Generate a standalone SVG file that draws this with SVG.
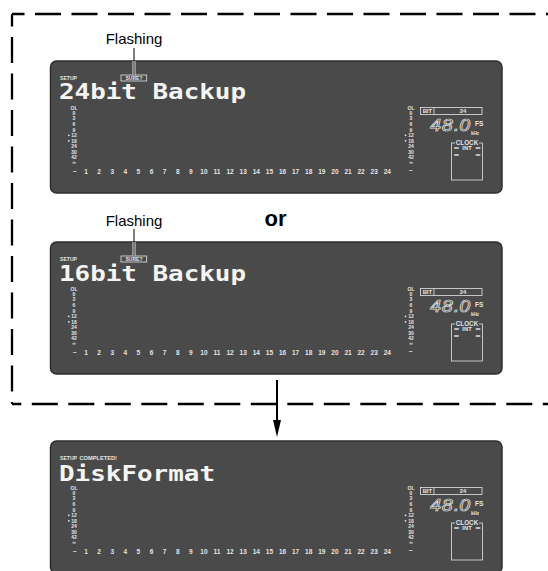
<svg xmlns="http://www.w3.org/2000/svg" width="548" height="571" viewBox="0 0 548 571">
<style>
.frame{fill:none;stroke:#000;stroke-width:2.3;stroke-dasharray:26 10.5}
.panel{fill:#4a4a4a;stroke:#2e2e2e;stroke-width:1.5}
.lcd{font-family:"DejaVu Sans Mono",monospace;font-weight:bold;font-size:22px;fill:#f5f5f5}
.t{font-family:"Liberation Sans",Arial,sans-serif;font-weight:bold;fill:#e4e4e4}
.m{font-size:5px;text-anchor:middle}
.n{font-size:6.5px;text-anchor:middle}
.c{text-anchor:middle}
.ol{fill:none;stroke:#e4e4e4;stroke-width:0.8}
.mk{fill:#e4e4e4}
.callout{font-family:"Liberation Sans",Arial,sans-serif;font-size:15px;fill:#000;text-anchor:middle}
.seg{font-family:"DejaVu Sans",sans-serif;font-style:italic;font-size:16px;fill:none;stroke:#e4e4e4;stroke-width:0.7}
</style>
<defs>
<g id="base">
<rect class="panel" x="50.5" y="61" width="451.5" height="132" rx="6"/>
<g class="t m">
<text x="74" y="110">OL</text><text x="74" y="114.5">0</text><text x="74" y="120">3</text><text x="74" y="126">6</text><text x="74" y="131.5">9</text><text x="74" y="137">12</text><text x="74" y="142.5">18</text><text x="74" y="148">24</text><text x="74" y="153.5">30</text><text x="74" y="159">42</text><text x="74" y="164">∞</text>
<text x="411" y="110">OL</text><text x="411" y="114.5">0</text><text x="411" y="120">3</text><text x="411" y="126">6</text><text x="411" y="131.5">9</text><text x="411" y="137">12</text><text x="411" y="142.5">18</text><text x="411" y="148">24</text><text x="411" y="153.5">30</text><text x="411" y="159">42</text><text x="411" y="164">∞</text>
</g>
<circle class="mk" cx="68.8" cy="135.3" r="0.9"/><circle class="mk" cx="68.8" cy="140.8" r="0.9"/>
<circle class="mk" cx="405.5" cy="135.3" r="0.9"/><circle class="mk" cx="405.5" cy="140.8" r="0.9"/>
<g class="t n">
<text x="75" y="174">−</text><text x="411" y="173">−</text>
<text x="86" y="174">1</text><text x="99.1" y="174">2</text><text x="112.2" y="174">3</text><text x="125.3" y="174">4</text><text x="138.4" y="174">5</text><text x="151.5" y="174">6</text><text x="164.6" y="174">7</text><text x="177.7" y="174">8</text><text x="190.8" y="174">9</text><text x="203.9" y="174">10</text><text x="217" y="174">11</text><text x="230.1" y="174">12</text><text x="243.2" y="174">13</text><text x="256.3" y="174">14</text><text x="269.4" y="174">15</text><text x="282.5" y="174">16</text><text x="295.6" y="174">17</text><text x="308.7" y="174">18</text><text x="321.8" y="174">19</text><text x="334.9" y="174">20</text><text x="348" y="174">21</text><text x="361.1" y="174">22</text><text x="374.2" y="174">23</text><text x="387.3" y="174">24</text>
</g>
<rect class="ol" x="420.5" y="107.5" width="61.5" height="7"/>
<line class="ol" x1="434" y1="107.5" x2="434" y2="114.5"/>
<text class="t c" x="427.3" y="113.3" font-size="5.8">BIT</text>
<text class="t c" x="463" y="113.3" font-size="5.8">24</text>
<text class="seg" x="430" y="131" textLength="41" lengthAdjust="spacingAndGlyphs">48.0</text>
<text class="t" x="475" y="126" font-size="6.5">FS</text>
<text class="t" x="471" y="135" font-size="4.6">kHz</text>
<rect class="ol" x="451.5" y="143" width="31" height="37"/>
<rect x="455" y="140" width="24" height="6" fill="#4a4a4a"/>
<text class="t c" x="467" y="145.3" font-size="6.3">CLOCK</text>
<text class="t c" x="467" y="150.3" font-size="5.8">INT</text>
<rect class="mk" x="454" y="147.2" width="5" height="1.6" rx="0.8"/>
<rect class="mk" x="475.5" y="147.2" width="5" height="1.6" rx="0.8"/>
</g>
<g id="exrow">
<rect class="mk" x="454" y="154.2" width="5" height="1.6" rx="0.8"/>
<rect class="mk" x="475.5" y="154.2" width="5" height="1.6" rx="0.8"/>
</g>
</defs>

<g id="connectors">
<line class="frame" x1="12" y1="14" x2="548" y2="14" stroke-dashoffset="13.5"/>
<line class="frame" x1="12" y1="14" x2="12" y2="404" stroke-dashoffset="13.5"/>
<line class="frame" x1="12" y1="404" x2="548" y2="404" stroke-dashoffset="16.7"/>
<line x1="277" y1="380" x2="277" y2="424" stroke="#000" stroke-width="2"/>
<polygon points="273,420 281,420 277,437" fill="#000"/>
</g>

<g id="display1">
<use href="#base"/>
<use href="#exrow"/>
<text class="t" x="60" y="79.5" font-size="5.5" textLength="17" lengthAdjust="spacingAndGlyphs">SETUP</text>
<rect class="ol" x="121" y="75" width="25.7" height="6"/>
<text class="t c" x="134" y="79.6" font-size="5">SURE?</text>
<text class="lcd" x="59" y="99" textLength="187" lengthAdjust="spacingAndGlyphs">24bit Backup</text>
</g>

<g id="display2" transform="translate(0,181)">
<use href="#base"/>
<use href="#exrow"/>
<text class="t" x="60" y="79.5" font-size="5.5" textLength="17" lengthAdjust="spacingAndGlyphs">SETUP</text>
<rect class="ol" x="121" y="75" width="25.7" height="6"/>
<text class="t c" x="134" y="79.6" font-size="5">SURE?</text>
<text class="lcd" x="59" y="100" textLength="187" lengthAdjust="spacingAndGlyphs">16bit Backup</text>
</g>

<g id="display3" transform="translate(0,380)">
<use href="#base"/>
<text class="t" x="60" y="79.5" font-size="5.5" textLength="17" lengthAdjust="spacingAndGlyphs">SETUP</text>
<text class="t" x="79.5" y="79.5" font-size="5.5" textLength="37.5" lengthAdjust="spacingAndGlyphs">COMPLETED!</text>
<text class="lcd" x="59" y="101" textLength="156" lengthAdjust="spacingAndGlyphs">DiskFormat</text>
</g>

<g id="flashing1">
<text class="callout" x="134" y="44">Flashing</text>
<line x1="134" y1="61" x2="134" y2="75" stroke="#fff" stroke-width="2.8"/>
<line x1="134" y1="48" x2="134" y2="75" stroke="#000" stroke-width="1"/>
</g>
<g id="flashing2">
<text class="callout" x="134" y="226">Flashing</text>
<line x1="134" y1="242" x2="134" y2="256" stroke="#fff" stroke-width="2.8"/>
<line x1="134" y1="229" x2="134" y2="256" stroke="#000" stroke-width="1"/>
</g>
<g id="or">
<text x="275.5" y="226" font-family="Liberation Sans, Arial, sans-serif" font-weight="bold" font-size="22" text-anchor="middle" fill="#000">or</text>
</g>
</svg>
